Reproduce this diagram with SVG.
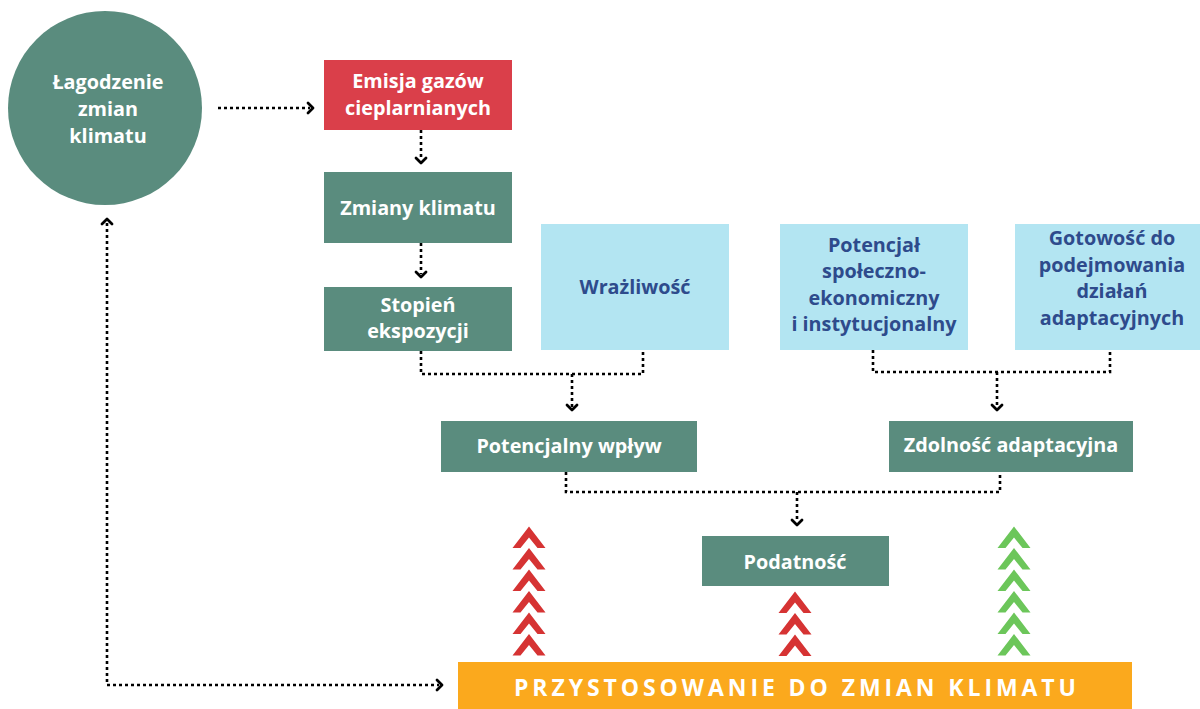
<svg xmlns="http://www.w3.org/2000/svg" width="1200" height="709" viewBox="0 0 1200 709">
<style>
text{font-family:"Open Sans","Noto Sans","Liberation Sans",sans-serif;font-weight:700;font-size:19.8px;text-anchor:middle}
.w{fill:#ffffff}
.b{fill:#2e4b8c}
.g{fill:#5a8c7e}
.r{fill:#da3f4a}
.l{fill:#b3e5f2}
.c{fill:none;stroke:#000;stroke-width:2.6;stroke-dasharray:3 3}
.h{fill:none;stroke:#000;stroke-width:2.8;stroke-linecap:round;stroke-linejoin:round}
</style>
<defs>
<path id="chev" d="M0,0 L16.5,21.5 L8.5,21.5 L0,11 L-8.5,21.5 L-16.5,21.5 Z"/>
</defs>
<rect width="1200" height="709" fill="#ffffff"/>
<g id="connectors">
<path class="c" d="M218,108 H310"/>
<path class="h" d="M308,103 L313,108 L308,113"/>
<path class="c" d="M421,130 V160"/>
<path class="h" d="M416,158 L421,163 L426,158"/>
<path class="c" d="M421,243 V274"/>
<path class="h" d="M416,272 L421,277 L426,272"/>
<path class="c" d="M421,351 V374 H643 V350"/>
<path class="c" d="M572,374 V407"/>
<path class="h" d="M567,405 L572,410 L577,405"/>
<path class="c" d="M873,350 V372 H1110 V350"/>
<path class="c" d="M997,372 V407"/>
<path class="h" d="M992,405 L997,410 L1002,405"/>
<path class="c" d="M566,472 V492 H1000 V472"/>
<path class="c" d="M797,492 V522"/>
<path class="h" d="M792,520 L797,525 L802,520"/>
<path class="c" d="M107,223 V685 H439"/>
<path class="h" d="M102,224 L107,219 L112,224"/>
<path class="h" d="M437,680 L442,685 L437,690"/>
</g>
<g id="mitigation">
<circle cx="105" cy="108" r="97" class="g"/>
<text class="w" x="108" y="89">Łagodzenie</text>
<text class="w" x="108" y="116">zmian</text>
<text class="w" x="108" y="143">klimatu</text>
</g>
<g id="emissions">
<rect x="324" y="60" width="188" height="70" class="r"/>
<text class="w" x="418" y="88">Emisja gazów</text>
<text class="w" x="418" y="115">cieplarnianych</text>
</g>
<g id="climate-change">
<rect x="324" y="172" width="188" height="71" class="g"/>
<text class="w" x="418" y="215">Zmiany klimatu</text>
</g>
<g id="exposure">
<rect x="324" y="287" width="188" height="64" class="g"/>
<text class="w" x="418" y="312">Stopień</text>
<text class="w" x="418" y="338">ekspozycji</text>
</g>
<g id="sensitivity">
<rect x="541" y="224" width="188" height="126" class="l"/>
<text class="b" x="635" y="294">Wrażliwość</text>
</g>
<g id="socio-economic">
<rect x="780" y="224" width="188" height="126" class="l"/>
<text class="b" x="874" y="252">Potencjał</text>
<text class="b" x="874" y="278">społeczno-</text>
<text class="b" x="874" y="305">ekonomiczny</text>
<text class="b" x="874" y="331">i instytucjonalny</text>
</g>
<g id="readiness">
<rect x="1015" y="224" width="185" height="126" class="l"/>
<text class="b" x="1112" y="245">Gotowość do</text>
<text class="b" x="1112" y="272">podejmowania</text>
<text class="b" x="1112" y="298">działań</text>
<text class="b" x="1112" y="325">adaptacyjnych</text>
</g>
<g id="potential-impact">
<rect x="441" y="421" width="256" height="51" class="g"/>
<text class="w" x="569" y="453">Potencjalny wpływ</text>
</g>
<g id="adaptive-capacity">
<rect x="889" y="421" width="244" height="51" class="g"/>
<text class="w" x="1011" y="452">Zdolność adaptacyjna</text>
</g>
<g id="vulnerability">
<rect x="702" y="536" width="187" height="50" class="g"/>
<text class="w" x="795" y="569">Podatność</text>
</g>
<g id="chevrons-left" fill="#d63333">
<use href="#chev" x="529" y="526.5"/>
<use href="#chev" x="529" y="548"/>
<use href="#chev" x="529" y="569.5"/>
<use href="#chev" x="529" y="591"/>
<use href="#chev" x="529" y="612.5"/>
<use href="#chev" x="529" y="634"/>
</g>
<g id="chevrons-middle" fill="#d63333">
<use href="#chev" x="795" y="591.5"/>
<use href="#chev" x="795" y="613"/>
<use href="#chev" x="795" y="634.5"/>
</g>
<g id="chevrons-right" fill="#6cc65a">
<use href="#chev" x="1014" y="526.5"/>
<use href="#chev" x="1014" y="548"/>
<use href="#chev" x="1014" y="569.5"/>
<use href="#chev" x="1014" y="591"/>
<use href="#chev" x="1014" y="612.5"/>
<use href="#chev" x="1014" y="634"/>
</g>
<g id="adaptation">
<rect x="458" y="662" width="674" height="47" fill="#fba91d"/>
<text class="w" x="795" y="696" style="font-size:23px" textLength="562" lengthAdjust="spacing">PRZYSTOSOWANIE DO ZMIAN KLIMATU</text>
</g>
</svg>
